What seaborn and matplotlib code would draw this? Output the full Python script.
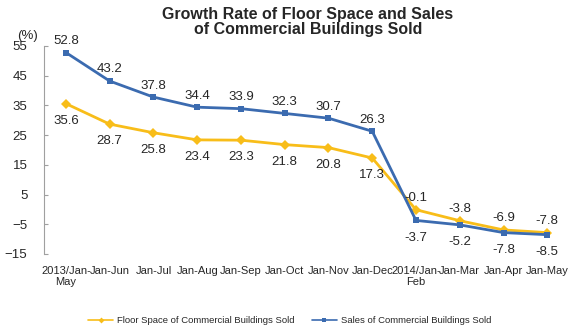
import matplotlib
matplotlib.use("Agg")
import matplotlib.pyplot as plt
from matplotlib.lines import Line2D
import seaborn as sns
import pandas as pd

categories = ["2013/Jan-\nMay", "Jan-Jun", "Jan-Jul", "Jan-Aug", "Jan-Sep", "Jan-Oct",
              "Jan-Nov", "Jan-Dec", "2014/Jan-\nFeb", "Jan-Mar", "Jan-Apr", "Jan-May"]
floor_space = [35.6, 28.7, 25.8, 23.4, 23.3, 21.8, 20.8, 17.3, -0.1, -3.8, -6.9, -7.8]
sales = [52.8, 43.2, 37.8, 34.4, 33.9, 32.3, 30.7, 26.3, -3.7, -5.2, -7.8, -8.5]
yticks = [55, 45, 35, 25, 15, 5, -5, -15]
series_names = ["Floor Space of Commercial Buildings Sold", "Sales of Commercial Buildings Sold"]

sns.set_style("white")
plt.rcParams['font.family'] = ['Liberation Sans', 'DejaVu Sans']

fig = plt.figure(figsize=(5.79, 3.35), dpi=100)
ax = fig.add_axes([0.076, 0.2418, 0.907, 0.621])

x = list(range(len(categories)))
df = pd.DataFrame({"x": x + x,
                   "v": floor_space + sales,
                   "s": [series_names[0]] * 12 + [series_names[1]] * 12})
yellow = "#F8BD19"
blue = "#3B6BB0"
sns.lineplot(data=df, x="x", y="v", hue="s", style="s",
             palette=[yellow, blue], markers=["D", "s"], dashes=False,
             markersize=5, linewidth=2, markeredgewidth=0, ax=ax, legend=False)

for i in x:
    fv, sv = floor_space[i], sales[i]
    up, down = (sv, fv) if i < 8 else (fv, sv)
    ax.annotate(f"{up:.1f}", (i, up), xytext=(0, 4), textcoords="offset points",
                ha="center", va="bottom", fontsize=9.5)
    ax.annotate(f"{down:.1f}", (i, down), xytext=(0, -8), textcoords="offset points",
                ha="center", va="top", fontsize=9.5)

ax.set_xlim(-0.5, 11.5)
ax.set_ylim(-15, 55)
ax.set_yticks(yticks)
ax.set_xticks(x)
ax.set_xticklabels(categories, fontsize=8, linespacing=1.1)
ax.tick_params(axis="y", labelsize=9.5, length=3, direction="in", color="#A0A0A0",
               left=True, pad=12)
ax.tick_params(axis="x", length=0, pad=9)
for s in ["top", "right", "bottom"]:
    ax.spines[s].set_visible(False)
ax.spines["left"].set_color("#A0A0A0")
ax.set_xlabel("")
ax.set_ylabel("")

fig.text(0.048, 0.8925, "(%)", fontsize=9.5, ha="center", va="center")
fig.text(0.532, 0.978, "Growth Rate of Floor Space and Sales\nof Commercial Buildings Sold",
         ha="center", va="top", fontsize=11.5, fontweight="bold", linespacing=1.0)

handles = [Line2D([], [], color=yellow, marker="D", markersize=3, linewidth=1.2, markeredgewidth=0),
           Line2D([], [], color=blue, marker="s", markersize=3.5, linewidth=1.2, markeredgewidth=0)]
fig.legend(handles, series_names,
           loc="center", bbox_to_anchor=(0.5, 0.042), ncol=2, frameon=False,
           prop={"size": 6.8},
           handlelength=2.7, columnspacing=1.8, handletextpad=0.4)

fig.savefig("out.png", dpi=100)
